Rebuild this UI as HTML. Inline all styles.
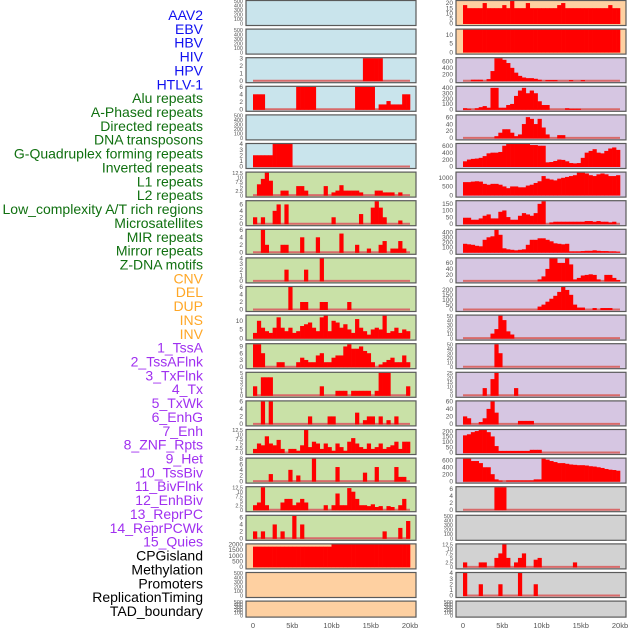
<!DOCTYPE html>
<html><head><meta charset="utf-8"><style>
html,body{margin:0;padding:0;background:#fff;}
svg{display:block;}
</style></head><body>
<svg id="chart" width="630" height="630" xmlns="http://www.w3.org/2000/svg" font-family="Liberation Sans, sans-serif"></svg>
<script>
const labels = ["AAV2","EBV","HBV","HIV","HPV","HTLV-1","Alu repeats","A-Phased repeats","Directed repeats","DNA transposons","G-Quadruplex forming repeats","Inverted repeats","L1 repeats","L2 repeats","Low_complexity A/T rich regions","Microsatellites","MIR repeats","Mirror repeats","Z-DNA motifs","CNV","DEL","DUP","INS","INV","1_TssA","2_TssAFlnk","3_TxFlnk","4_Tx","5_TxWk","6_EnhG","7_Enh","8_ZNF_Rpts","9_Het","10_TssBiv","11_BivFlnk","12_EnhBiv","13_ReprPC","14_ReprPCWk","15_Quies","CPGisland","Methylation","Promoters","ReplicationTiming","TAD_boundary"];
const labelGroups = ["virus","virus","virus","virus","virus","virus","repeat","repeat","repeat","repeat","repeat","repeat","repeat","repeat","repeat","repeat","repeat","repeat","repeat","sv","sv","sv","sv","sv","chrom","chrom","chrom","chrom","chrom","chrom","chrom","chrom","chrom","chrom","chrom","chrom","chrom","chrom","chrom","other","other","other","other","other"];
const xTickLabels = ["0","5kb","10kb","15kb","20kb"];
const xTickValues = [0,5000,10000,15000,20000];
const T500 = [0,100,200,300,400,500];

// Left column panels
const L_bg = ["blue","blue","blue","blue","blue","blue","green","green","green","green","green","green","green","green","green","green","green","green","green","peach","peach","peach"];
const L_max = [500,500,3,6,500,4,12.5,7,6,4,6,13,10,5,6,12.5,8,12.5,6.5,2000,500,500];
const L_ticks = [T500,T500,[0,1,2,3],[0,2,4,6],T500,[0,1,2,3,4],[0,2.5,5,7.5,10,12.5],[0,2,4,6],[0,2,4,6],[0,1,2,3,4],[0,2,4,6],[0,5,10],[0,3,6,9],[0,1,2,3,4,5],[0,2,4,6],[0,2.5,5,7.5,10,12.5],[0,2,4,6,8],[0,2.5,5,7.5,10,12.5],[0,2,4,6],[0,500,1000,1500,2000],T500,T500];
const L_base = [0,0,1,1,0,1,1,1,1,1,1,1,1,1,1,1,1,1,1,0,0,0];
const L_v0 = [];
const L_v1 = [];
const L_v2 = [0,0,0,0,0,0,0,0,0,0,0,0,0,0,0,0,0,0,0,0,0,0,0,0,0,0,0,0,3,3,3,3,3,0,0,0,0,0,0,0];
const L_v3 = [4,4,4,0,0,0,0,0,0,0,0,6,6,6,6,6,0,0,0,0,0,0,0,0,0,0,6,6,6,6,6,0,1.3,1.3,2.2,1.3,1.3,1.3,4,4];
const L_v4 = [];
const L_v5 = [2,2,2,2,2,4,4,4,4,4,0,0,0,0,0,0,0,0,0,0,0,0,0,0,0,0,0,0,0,0,0,0,0,0,0,0,0,0,0,0];
const L_v6 = [0,6,9,12.5,8,0,0,2.5,2.5,0,0,5,5,2.5,0,0,0,0,5,0,1.5,2.5,5.5,2.5,2.5,2.5,2.5,1.5,0,0,0,2.5,2.5,1.5,1.5,1.5,0,1.5,0,0];
const L_v7 = [2,0,2,0,0,4,6,0,6,0,0,0,0,0,0,0,0,0,0,0,2,0,0,0,0,0,0,3,0,0,5,7,5,2,0,0,0,1,0,0];
const L_v8 = [0,0,6,2,0,0,0,2,2,0,0,0,4,0,0,0,4,0,0,0,0,0,5,0,0,0,2,0,0,1,0,0,2,3,0,1,1,3,1,0];
const L_v9 = [0,0,0,0,0,0,0,0,2,0,0,0,0,2,0,0,0,4,0,0,0,0,0,0,0,0,0,0,0,0,0,0,0,0,0,0,0,0,0,0];
const L_v10 = [0,0,0,0,0,0,0,0,0,6,0,0,2,2,0,0,0,2,2,0,0,0,0,0,2,0,0,0,0,0,0,0,0,0,0,0,0,0,0,0];
const L_v11 = [3,10,6,4,3,6,12,6,4,6,3,4,7,8,9,6,4,12,13,4,10,9,6,8,5,3,11,6,4,2,5,6,5,13,3,4,6,3,5,4];
const L_v12 = [10,10,6,0,0,0,2,2,0,0,0,2,4,3,2,2,5,6,2,2,4,5,5,9,10,8,8,9,7,6,2,0,1,2,3,4,2,2,5,2];
const L_v13 = [2,0,4,4,4,0,0,0,0,0,0,0,0,0,0,0,0,2,0,0,0,1,1,1,0,1,1,1,1,1,0,1,5,5,5,0,0,0,0,2];
const L_v14 = [0,0,6,0,6,0,0,0,0,0,0,0,0,0,2,0,0,0,0,2,2,0,0,0,0,0,3,0,1,2,2,0,2,0,1,0,2,0,0,0];
const L_v15 = [2,5,4,9,5,4,7,2,0,2,2,1,4,12.5,3,6,5,2,5,3,1,5,3,1,6,8,5,3,2,5,2,3,5,2,3,4,6,2,6,6];
const L_v16 = [0,0,0,0,2.5,0,0,0,0,4,0,2,0,0,0,8,0,0,0,0,0,5,0,0,0,0,0,0,3,0,0,5,0,0,0,0,5,1.5,1.5,0];
const L_v17 = [2.5,4,12.5,2.5,0,0,0,4,6,6,2.5,4,6,4,0,0,0,0,2.5,0,2.5,9,2.5,2.5,12,10,6,2.5,2.5,2,3,1.5,2,0,2,1.5,0,2.5,6,0];
const L_v18 = [2,0,2,0,0,4,0,2,0,0,6.5,0,4,0,0,0,0,0,0,0,0,0,0,0,0,0,0,0,0,0,0,0,0,2,0,0,0,3,0,5];
const L_v19 = [1800,1800,1800,1800,1800,1800,1800,1800,1800,1800,1800,1800,1800,1800,1800,1800,1800,1800,1800,1800,2000,2000,2000,2000,2000,2000,2000,2000,2000,2000,2000,2000,2000,2000,2000,2000,2000,2000,2000,2000];
const L_v20 = [];
const L_v21 = [];
const L_vals = [L_v0,L_v1,L_v2,L_v3,L_v4,L_v5,L_v6,L_v7,L_v8,L_v9,L_v10,L_v11,L_v12,L_v13,L_v14,L_v15,L_v16,L_v17,L_v18,L_v19,L_v20,L_v21];

// Right column panels
const R_bg = ["peach","peach","lav","lav","lav","lav","lav","lav","lav","lav","lav","lav","lav","lav","lav","lav","lav","gray","gray","gray","gray","gray"];
const R_max = [22,13,700,420,65,650,1300,170,450,75,230,50,50,25,60,210,650,6.5,500,12.5,4,500];
const R_ticks = [[0,5,10,15,20],[0,5,10],[0,200,400,600],[0,100,200,300,400],[0,20,40,60],[0,200,400,600],[0,500,1000],[0,50,100,150],[0,100,200,300,400],[0,20,40,60],[0,50,100,150,200],[0,10,20,30,40,50],[0,10,20,30,40,50],[0,5,10,15,20,25],[0,20,40,60],[0,50,100,150,200],[0,200,400,600],[0,2,4,6],T500,[0,2.5,5,7.5,10,12.5],[0,1,2,3,4],T500];
const R_base = [0,0,1,1,1,0,0,1,0,1,1,1,1,1,1,1,1,1,0,1,1,0];
const R_v0 = [18,15,15,15,15,20,15,15,15,15,18,15,22,15,15,15,20,15,15,15,15,15,15,15,18,20,15,15,15,15,15,15,15,15,15,15,15,18,15,15];
const R_v1 = [13,13,13,13,13,13,13,13,13,13,13,13,13,13,13,13,13,13,13,13,13,13,13,13,13,13,13,13,13,13,13,13,13,13,13,13,13,13,13,13];
const R_v2 = [0,0,30,30,30,0,50,300,700,700,650,550,400,250,150,100,80,80,60,30,0,20,20,20,0,0,0,20,0,0,20,0,0,0,0,0,0,0,0,0];
const R_v3 = [20,10,0,20,40,60,30,400,400,30,30,80,100,250,350,400,300,350,300,150,80,80,0,0,0,0,20,10,10,10,0,0,0,0,0,0,0,0,0,0];
const R_v4 = [0,0,0,0,0,0,0,0,5,15,25,25,15,5,10,40,60,55,40,55,30,10,0,0,8,8,0,0,0,0,0,0,0,0,0,0,0,0,0,0];
const R_v5 = [150,200,220,230,250,300,380,400,400,420,600,650,700,700,700,700,680,620,620,600,600,120,130,160,200,190,150,100,90,100,250,400,450,500,400,380,450,520,550,480];
const R_v6 = [750,750,780,800,780,650,600,650,650,600,500,400,500,500,450,450,550,600,700,800,1100,950,900,850,950,1000,1050,1100,1150,1300,1300,1250,1150,1100,1200,1250,1200,1100,1100,1150];
const R_v7 = [45,45,30,30,40,60,70,40,40,90,100,50,30,30,60,80,70,60,80,150,170,0,10,15,15,15,15,15,15,15,15,20,20,15,20,15,15,10,15,0];
const R_v8 = [170,160,150,130,120,250,300,320,450,350,80,60,50,40,50,60,150,250,250,280,280,250,220,180,170,160,170,20,20,20,25,30,30,40,30,25,25,20,20,15];
const R_v9 = [0,0,0,0,0,0,0,0,0,0,0,0,0,0,0,0,0,0,0,5,15,40,75,75,60,60,75,55,5,10,18,20,22,20,5,0,20,20,10,3];
const R_v10 = [0,0,0,0,0,0,0,0,0,0,0,0,0,0,0,0,0,0,0,30,50,80,110,140,180,230,200,150,50,20,20,0,0,15,0,15,15,15,0,0];
const R_v11 = [0,0,0,0,0,0,0,10,20,50,40,15,8,0,0,0,0,0,0,0,0,0,0,0,0,0,0,0,0,0,0,0,0,0,0,0,0,0,0,0];
const R_v12 = [0,0,0,0,0,0,0,0,50,30,0,0,0,0,0,0,0,0,0,0,0,0,0,0,0,0,0,0,0,0,0,0,0,0,0,0,0,0,0,0];
const R_v13 = [0,0,0,0,0,8,0,18,25,0,0,0,0,8,0,0,0,0,0,0,0,0,0,0,0,0,0,0,0,0,0,0,0,0,0,0,0,0,0,0];
const R_v14 = [20,15,0,0,5,15,40,60,30,0,0,0,0,0,8,8,8,8,0,0,0,0,0,0,0,0,0,0,0,0,0,0,0,0,0,0,0,0,0,0];
const R_v15 = [160,170,190,200,210,210,190,150,60,15,15,15,15,15,15,15,15,25,25,25,0,0,0,0,0,0,0,0,0,0,0,0,0,0,0,0,0,0,0,0];
const R_v16 = [650,650,580,580,520,400,400,200,50,15,0,20,20,20,20,20,20,20,50,50,650,620,580,550,520,520,500,480,470,460,460,450,430,420,400,380,350,330,320,300];
const R_v17 = [0,0,0,0,0,0,0,0,6.5,6.5,6.5,0,0,0,0,0,0,0,0,0,0,0,0,0,0,0,0,0,0,0,0,0,0,0,0,0,0,0,0,0];
const R_v18 = [];
const R_v19 = [2.5,0,0,0,2.5,2.5,0,0,5,7.5,12.5,5,0,2.5,5,7.5,0,0,4,5,0,0,0,0,0,0,0,0,2.5,0,0,0,0,0,0,0,0,0,0,0];
const R_v20 = [4,0,0,0,2,0,0,0,0,2,0,0,0,0,4,0,0,0,2,0,0,0,0,0,0,0,0,0,0,0,0,0,0,0,0,0,0,0,0,0];
const R_v21 = [];
const R_vals = [R_v0,R_v1,R_v2,R_v3,R_v4,R_v5,R_v6,R_v7,R_v8,R_v9,R_v10,R_v11,R_v12,R_v13,R_v14,R_v15,R_v16,R_v17,R_v18,R_v19,R_v20,R_v21];

const NS = "http://www.w3.org/2000/svg";
const svg = document.getElementById("chart");
const bgColors = {blue:"#c9e4ec",peach:"#fed0a1",lav:"#d6c6e2",green:"#c9e1a7",gray:"#d2d2d2"};
const labelColors = {virus:"#1010f0",repeat:"#107010",sv:"#ffa726",chrom:"#a030f0",other:"#000000"};
const BINS = 40, GENOME = 20000;

function mk(tag, attrs, parent){
  const e = document.createElementNS(NS, tag);
  for (const k in attrs) e.setAttribute(k, attrs[k]);
  (parent||svg).appendChild(e);
  return e;
}

// labels
labels.forEach((t,i)=>{
  const el = mk("text",{x:203,y:20+i*13.86,"text-anchor":"end","font-size":14,fill:labelColors[labelGroups[i]]});
  el.textContent = t;
  
  
});

function drawPanel(col, i, bg, max, ticks, vals, base){
  const px = col===0 ? 246 : 456;
  const x0 = col===0 ? 253 : 463;
  const x1 = col===0 ? 410 : 620;
  const top = 0.5 + 28.6*i;
  const h = i===21 ? 16 : 25;
  const bottom = top + h;
  const xs = v => x0 + (v/GENOME)*(x1-x0);
  const ys = v => (bottom-2) - (Math.min(v,max)/max)*(h-2.5);
  const g = mk("g",{});
  
  
  const r = mk("rect",{x:px,y:top,width:170,height:h,fill:bgColors[bg]},g);
  
  
  if (base){
    const b = mk("line",{x1:xs(0),x2:xs(GENOME),y1:bottom-2,y2:bottom-2,stroke:"#d86a6a","stroke-width":2},g);
    
    
  }
  const bw = GENOME/BINS;
  vals.forEach((v,k)=>{
    if (!v) return;
    const bx = xs(k*bw), bx2 = xs((k+1)*bw);
    const bar = mk("rect",{x:bx,y:ys(v),width:bx2-bx+0.3,height:(bottom-2)-ys(v)+0.5,fill:"#ff0000"},g);
    
    
  });
  mk("rect",{x:px,y:top,width:170,height:h,fill:"none",stroke:"#5a5a5a","stroke-width":1.2},g);
  const fs = ticks.length>5 ? 5.5 : 6.5;
  ticks.forEach(t=>{
    const tt = mk("text",{x:px-3,y:ys(t)+2.2,"text-anchor":"end","font-size":fs,fill:"#555"},g);
    tt.textContent = t;
    
    
  });
}

for (let i=0;i<22;i++){
  drawPanel(0,i,L_bg[i],L_max[i],L_ticks[i],L_vals[i],L_base[i]);
  drawPanel(1,i,R_bg[i],R_max[i],R_ticks[i],R_vals[i],R_base[i]);
}

// x axes
[[253,410],[463,620]].forEach((c,ci)=>{
  xTickValues.forEach((v,k)=>{
    const x = c[0] + v/GENOME*(c[1]-c[0]);
    const t = mk("text",{x:x,y:628,"text-anchor":"middle","font-size":7.5,fill:"#555"});
    t.textContent = xTickLabels[k];
    
    
  });
});
</script>
</body></html>
